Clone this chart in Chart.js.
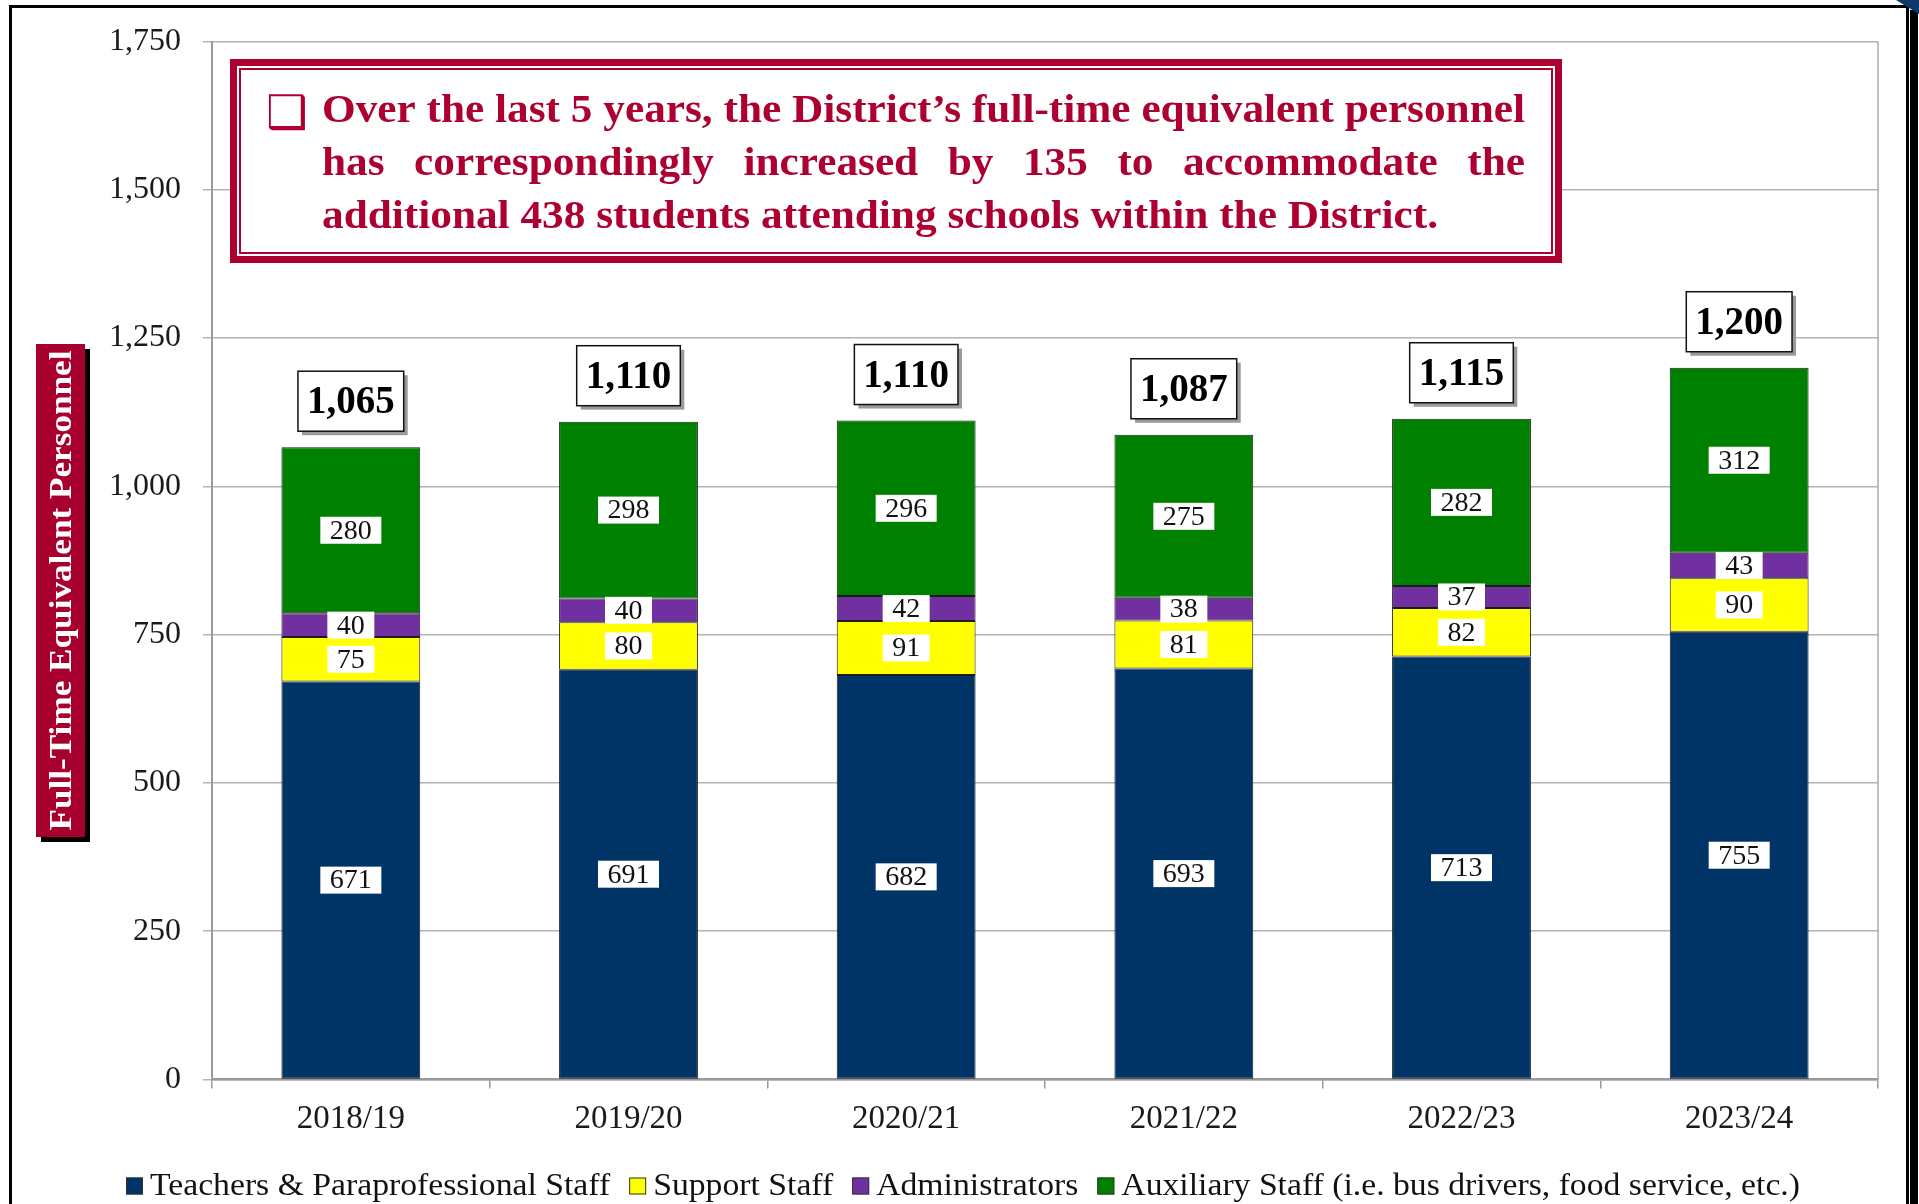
<!DOCTYPE html>
<html>
<head>
<meta charset="utf-8">
<script src="https://cdn.jsdelivr.net/npm/chart.js@4.4.1/dist/chart.umd.min.js"></script>
<style>
  html, body { margin: 0; padding: 0; background: #fff; overflow: hidden; }
  #wrap { position: relative; width: 1919px; height: 1204px; }
</style>
</head>
<body>
<div id="wrap"><canvas id="fteChart" width="1919" height="1204"></canvas></div>
<script>
// --- data ---
const years = ['2018/19', '2019/20', '2020/21', '2021/22', '2022/23', '2023/24'];
const teachers = [671, 691, 682, 693, 713, 755];
const support = [75, 80, 91, 81, 82, 90];
const admins = [40, 40, 42, 38, 37, 43];
const auxiliary = [280, 298, 296, 275, 282, 312];
const totals = [1065, 1110, 1110, 1087, 1115, 1200];
const yTicks = [0, 250, 500, 750, 1000, 1250, 1500, 1750];
const seriesNames = [
    'Teachers & Paraprofessional Staff',
    'Support Staff',
    'Administrators',
    'Auxiliary Staff (i.e. bus drivers, food service, etc.)'
];
const yTitle = 'Full-Time Equivalent Personnel';
const noteLines = [
    'Over the last 5 years, the District\u2019s full-time equivalent personnel',
    'has correspondingly increased by 135 to accommodate the',
    'additional 438 students attending schools within the District.'
];

const SERIF = '"Liberation Serif", "Times New Roman", serif';
const CRIMSON = '#AE0030';
const fmt = v => Number(v).toLocaleString('en-US');

Chart.defaults.font.family = SERIF;
Chart.defaults.color = '#1a1a1a';

// 外枠・注記・軸タイトル・ラベル類
const decorPlugin = {
    id: 'decor',
    beforeDraw(chart) {
        const ctx = chart.ctx;
        ctx.save();
        ctx.fillStyle = '#fff';
        ctx.fillRect(0, 0, chart.width, chart.height);
        ctx.restore();
    },
    afterDatasetsDraw(chart) {
        const ctx = chart.ctx;
        const area = chart.chartArea;
        ctx.save();

        // right border of plot
        ctx.strokeStyle = '#ABABAB';
        ctx.lineWidth = 1.5;
        ctx.beginPath();
        ctx.moveTo(area.right, area.top);
        ctx.lineTo(area.right, area.bottom);
        ctx.stroke();

        // segment labels
        ctx.font = '28px ' + SERIF;
        ctx.textAlign = 'center';
        ctx.textBaseline = 'middle';
        chart.data.datasets.forEach((ds, i) => {
            chart.getDatasetMeta(i).data.forEach((el, j) => {
                const txt = fmt(ds.data[j]);
                const w = ctx.measureText(txt).width + 19;
                const cy = (el.y + el.base) / 2;
                ctx.fillStyle = '#fff';
                ctx.fillRect(el.x - w / 2, cy - 13.5, w, 27);
                ctx.fillStyle = '#111';
                ctx.fillText(txt, el.x, cy + 1);
            });
        });

        // total labels
        const topMeta = chart.getDatasetMeta(chart.data.datasets.length - 1);
        ctx.font = 'bold 39px ' + SERIF;
        topMeta.data.forEach((el, j) => {
            const txt = fmt(totals[j]);
            const w = ctx.measureText(txt).width + 18;
            const h = 60;
            const bx = el.x - w / 2, by = el.y - 16 - h;
            ctx.fillStyle = '#9a9a9a';
            ctx.fillRect(bx + 4, by + 4, w, h);
            ctx.fillStyle = '#fff';
            ctx.fillRect(bx, by, w, h);
            ctx.strokeStyle = '#111';
            ctx.lineWidth = 1.5;
            ctx.strokeRect(bx, by, w, h);
            ctx.fillStyle = '#000';
            ctx.fillText(txt, el.x, by + h / 2 + 2);
        });
        ctx.restore();
    },
    afterDraw(chart) {
        const ctx = chart.ctx;
        ctx.save();

        // note box
        const nx = 230, ny = 59, nw = 1332, nh = 204;
        ctx.fillStyle = '#fff';
        ctx.fillRect(nx, ny, nw, nh);
        ctx.strokeStyle = CRIMSON;
        ctx.lineWidth = 7;
        ctx.strokeRect(nx + 3.5, ny + 3.5, nw - 7, nh - 7);
        ctx.lineWidth = 2;
        ctx.strokeRect(nx + 10, ny + 10, nw - 20, nh - 20);

        ctx.fillStyle = CRIMSON;
        ctx.font = 'bold 46px "DejaVu Sans", sans-serif';
        ctx.textAlign = 'left';
        ctx.textBaseline = 'alphabetic';
        ctx.fillText('\u2751', 266, 128);

        ctx.font = 'bold 40px ' + SERIF;
        const tx = 322, tw = 1203;
        const sx = tw / ctx.measureText(noteLines[0]).width;
        const baselines = [122, 175, 228];
        noteLines.forEach((line, k) => {
            const words = line.split(' ');
            const sp = ctx.measureText(' ').width * sx;
            const wordsW = words.reduce((s, w) => s + ctx.measureText(w).width * sx, 0);
            const gap = k < 2 ? (tw - wordsW) / (words.length - 1) : sp;
            let cx = tx;
            words.forEach(w => {
                ctx.save();
                ctx.translate(cx, baselines[k]);
                ctx.scale(sx, 1);
                ctx.fillText(w, 0, 0);
                ctx.restore();
                cx += ctx.measureText(w).width * sx + gap;
            });
        });

        // y axis title
        const tbx = 36, tby = 344, tbw = 49, tbh = 493;
        ctx.fillStyle = '#000';
        ctx.fillRect(tbx + 5, tby + 5, tbw, tbh);
        ctx.fillStyle = '#A8002E';
        ctx.fillRect(tbx, tby, tbw, tbh);
        ctx.translate(tbx + tbw / 2, tby + tbh / 2);
        ctx.rotate(-Math.PI / 2);
        ctx.font = 'bold 32px ' + SERIF;
        const tsx = Math.min(1.2, 480 / ctx.measureText(yTitle).width);
        ctx.scale(tsx, 1);
        ctx.fillStyle = '#fff';
        ctx.textAlign = 'center';
        ctx.textBaseline = 'middle';
        ctx.fillText(yTitle, 0, 2);
        ctx.setTransform(1, 0, 0, 1, 0, 0);

        // legend
        const colors = chart.data.datasets.map(d => d.backgroundColor);
        ctx.font = '31px ' + SERIF;
        const box = 17, boxGap = 7, itemGap = 19;
        const legendLeft = 126, legendRight = 1800;
        const rawW = seriesNames.map(n => ctx.measureText(n).width);
        const fixed = (box + boxGap) * seriesNames.length + itemGap * (seriesNames.length - 1);
        const lsx = (legendRight - legendLeft - fixed) / rawW.reduce((s, w) => s + w, 0);
        let lx = legendLeft;
        const ly = 1186;
        ctx.textBaseline = 'middle';
        ctx.textAlign = 'left';
        seriesNames.forEach((n, k) => {
            ctx.fillStyle = colors[k];
            ctx.fillRect(lx, ly - box / 2, box, box);
            ctx.strokeStyle = '#333';
            ctx.lineWidth = 1;
            ctx.strokeRect(lx + 0.5, ly - box / 2 + 0.5, box - 1, box - 1);
            ctx.save();
            ctx.translate(lx + box + boxGap, ly + 1);
            ctx.scale(lsx, 1);
            ctx.fillStyle = '#111';
            ctx.fillText(n, 0, 0);
            ctx.restore();
            lx += box + boxGap + rawW[k] * lsx + itemGap;
        });

        // outer frame
        ctx.fillStyle = '#000';
        ctx.fillRect(9, 5, 1900, 3);
        ctx.fillRect(9, 5, 3, 1199);
        ctx.fillRect(1906, 5, 3, 1199);
        ctx.fillRect(1910, 10, 8, 1194);
        ctx.fillStyle = '#0E3A6B';
        ctx.beginPath();
        ctx.moveTo(1896, 0);
        ctx.lineTo(1919, 0);
        ctx.lineTo(1919, 14);
        ctx.closePath();
        ctx.fill();
        ctx.restore();
    }
};

const barStyle = { borderWidth: 1, borderColor: '#1c1c1c', borderSkipped: false, barPercentage: 1, categoryPercentage: 0.5 };

new Chart(document.getElementById('fteChart'), {
    type: 'bar',
    data: {
        labels: years,
        datasets: [
            { label: seriesNames[0], data: teachers, backgroundColor: '#003366', ...barStyle },
            { label: seriesNames[1], data: support, backgroundColor: '#FFFF00', ...barStyle },
            { label: seriesNames[2], data: admins, backgroundColor: '#7030A0', ...barStyle },
            { label: seriesNames[3], data: auxiliary, backgroundColor: '#008000', ...barStyle }
        ]
    },
    options: {
        responsive: false,
        animation: false,
        devicePixelRatio: 1,
        layout: { padding: { left: 0, right: 41, top: 41.5, bottom: 0 } },
        scales: {
            x: {
                stacked: true,
                afterFit: s => { s.height = 124.5; },
                grid: { display: true, drawOnChartArea: false, drawTicks: true, tickLength: 9, color: '#9a9a9a', lineWidth: 1.5 },
                border: { display: true, color: '#9a9a9a', width: 2.5 },
                ticks: { color: '#1a1a1a', font: { size: 33 }, padding: 11 }
            },
            y: {
                stacked: true,
                min: 0,
                max: 1750,
                afterFit: s => { s.width = 212; },
                afterBuildTicks: s => { s.ticks = yTicks.map(v => ({ value: v })); },
                grid: { color: '#B4B4B4', lineWidth: 1.5, drawTicks: true, tickLength: 9 },
                border: { display: true, color: '#9a9a9a', width: 2 },
                ticks: { color: '#1a1a1a', font: { size: 32 }, padding: 22, callback: v => fmt(v) }
            }
        },
        plugins: {
            legend: { display: false },
            tooltip: { enabled: false }
        }
    },
    plugins: [decorPlugin]
});
</script>
</body>
</html>
